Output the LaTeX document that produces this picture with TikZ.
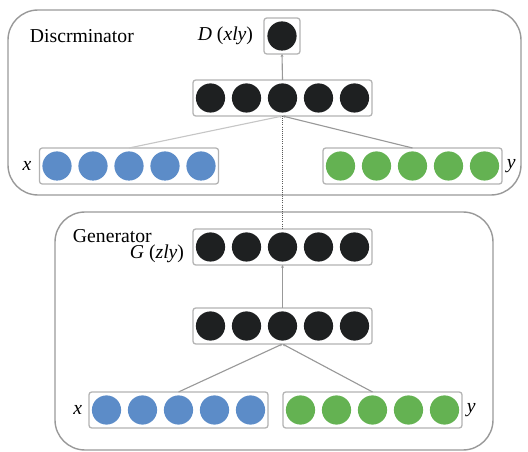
\documentclass[tikz,border=0pt]{standalone}
\usepackage{fontspec}
\setmainfont{Liberation Serif}
\usetikzlibrary{calc,arrows.meta}

\definecolor{boxgray}{RGB}{178,178,178}
\definecolor{unitblack}{RGB}{30,32,33}
\definecolor{unitblue}{RGB}{92,140,200}
\definecolor{unitgreen}{RGB}{100,178,82}

\begin{document}
\begin{tikzpicture}[x=0.025cm,y=-0.025cm,
    every node/.style={font=\fontsize{14}{16}\selectfont},
    panel/.style={draw=gray!80, line width=1pt, rounded corners=0.75cm},
    layer/.style={draw=boxgray, line width=0.9pt, rounded corners=2pt,
        minimum width=4.475cm, minimum height=0.9cm, inner sep=0, outer sep=0},
    single/.style={layer, minimum width=0.9cm},
    unit/.style={circle, fill=#1, minimum size=0.73cm, inner sep=0},
    link/.style={draw=gray!80, line width=0.8pt, -{Stealth[length=2pt,width=2pt]}}]

    % Fix the size of the picture
    \useasboundingbox (0,0) rectangle (528,452);

    % Draw the two panels
    \draw[panel] (8,10) rectangle (521,195);
    \draw[panel] (55,212) rectangle (493,450);

    % Discriminator: output, hidden layer and the two inputs
    \node[single] (dout) at (282,36) {};
    \node[unit=unitblack] at (dout) {};
    \node[layer] (dh) at (282.5,98) {};
    \node[layer] (dx) at (129,166) {};
    \node[layer] (dy) at (412.5,166) {};

    % Generator: output, hidden layer and the two inputs
    \node[layer] (gg) at (282.5,247) {};
    \node[layer] (gh) at (282.5,326) {};
    \node[layer] (gx) at (178.5,410) {};
    \node[layer] (gy) at (372.5,410) {};

    % Fill the layers with units
    \foreach \i in {1,...,5} {
        \node[unit=unitblack] (dh\i) at ($(dh)+(\i*36-108,0)$) {};
        \node[unit=unitblue] (dx\i) at ($(dx)+(\i*36-108,0)$) {};
        \node[unit=unitgreen] (dy\i) at ($(dy)+(\i*36-108,0)$) {};
        \node[unit=unitblack] (gg\i) at ($(gg)+(\i*36-108,0)$) {};
        \node[unit=unitblack] (gh\i) at ($(gh)+(\i*36-108,0)$) {};
        \node[unit=unitblue] (gx\i) at ($(gx)+(\i*36-108,0)$) {};
        \node[unit=unitgreen] (gy\i) at ($(gy)+(\i*36-108,0)$) {};
    }

    % Labels
    \node[anchor=west] (dname) at (25,36) {Discrminator};
    \node[anchor=east, xshift=-0.15cm] (dlabel) at (dout.west) {\textit{D} (\textit{xly})};
    \node[anchor=east, xshift=-0.08cm] at (dx.west) {\textit{x}};
    \node[anchor=west] at (dy.east) {\textit{y}};
    \node[anchor=west] (gname) at (68,236) {Generator};
    \node[anchor=east] (glabel) at (189,254) {\textit{G} (\textit{zly})};
    \node[anchor=east, xshift=-0.05cm] at (gx.west) {\textit{x}};
    \node[anchor=west] at (gy.east) {\textit{y}};

    % Connections in the discriminator
    \draw[link, draw=gray!45] (dx.north -| dx3) -- (dh.south);
    \draw[link] (dy.north -| dy3) -- (dh.south);
    \draw[link] (dh.north) -- (dout.south);

    % Generator output goes into the discriminator
    \draw[densely dotted, gray!70!black, line width=0.5pt] (dh.south) -- (gg.north);

    % Connections in the generator
    \draw[link] (gx.north -| gx3) -- (gh.south);
    \draw[link] (gy.north -| gy3) -- (gh.south);
    \draw[link] (gh.north) -- (gg.south);

\end{tikzpicture}
\end{document}
